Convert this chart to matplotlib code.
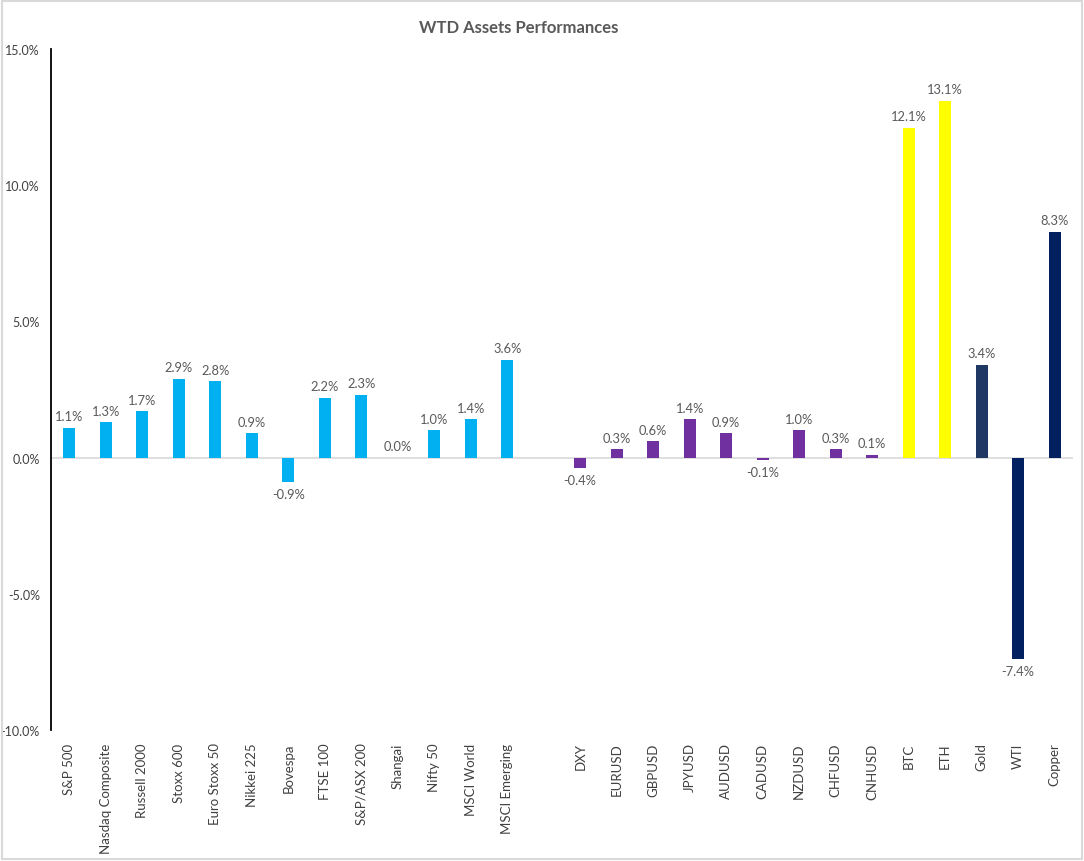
import numpy as np
import matplotlib.pyplot as plt
from matplotlib.patches import Rectangle
from matplotlib.ticker import FuncFormatter

# Datos de la semana (en %)
equities = ['S&P 500', 'Nasdaq Composite', 'Russell 2000', 'Stoxx 600', 'Euro Stoxx 50',
            'Nikkei 225', 'Bovespa', 'FTSE 100', 'S&P/ASX 200', 'Shangai', 'Nifty 50',
            'MSCI World', 'MSCI Emerging']
equities_val = [1.1, 1.3, 1.7, 2.9, 2.8, 0.9, -0.9, 2.2, 2.3, 0.0, 1.0, 1.4, 3.6]

fx = ['DXY', 'EURUSD', 'GBPUSD', 'JPYUSD', 'AUDUSD', 'CADUSD', 'NZDUSD', 'CHFUSD', 'CNHUSD']
fx_val = [-0.4, 0.3, 0.6, 1.4, 0.9, -0.1, 1.0, 0.3, 0.1]

crypto = ['BTC', 'ETH']
crypto_val = [12.1, 13.1]

commod = ['Gold', 'WTI', 'Copper']
commod_val = [3.4, -7.4, 8.3]

c_eq = '#00B0F0'
c_fx = '#7030A0'
c_cr = '#FFFF00'
c_cm = ['#1F3864', '#002060', '#002060']

labels = equities + [''] + fx + crypto + commod
values = equities_val + [np.nan] + fx_val + crypto_val + commod_val
colors = [c_eq] * len(equities) + ['none'] + [c_fx] * len(fx) + [c_cr] * len(crypto) + c_cm

plt.rcParams['font.family'] = ['Lato', 'DejaVu Sans']

fig = plt.figure(figsize=(10.84, 8.62), dpi=100)
ax = fig.add_axes([51/1084, 1 - 731/862, 1022/1084, 681/862])

x = np.arange(len(labels))
ax.bar(x, np.nan_to_num(values), width=0.33, color=colors, zorder=3)
ax.axhline(0, color='#D9D9D9', linewidth=1.2, zorder=2)

for xi, v in zip(x, values):
    if np.isnan(v):
        continue
    if v >= 0:
        ax.annotate(f'{v:.1f}%', (xi, v), xytext=(0, 4), textcoords='offset points',
                    ha='center', va='bottom', fontsize=9.3, color='#595959')
    else:
        ax.annotate(f'{v:.1f}%', (xi, v), xytext=(0, -4), textcoords='offset points',
                    ha='center', va='top', fontsize=9.3, color='#595959')

ax.set_xlim(-0.5, len(labels) - 0.5)
ax.set_ylim(-10, 15)
ax.set_yticks([-10, -5, 0, 5, 10, 15])
ax.yaxis.set_major_formatter(FuncFormatter(lambda y, _: f'{y:.1f}%'))
ax.set_xticks(x)
ax.set_xticklabels(labels, rotation=90, fontsize=9.5, color='#404040')
ax.tick_params(axis='x', length=0, pad=9)
ax.tick_params(axis='y', length=0, pad=8, labelsize=9, labelcolor='#404040')

for s in ['top', 'right', 'bottom']:
    ax.spines[s].set_visible(False)
ax.spines['left'].set_color('black')
ax.spines['left'].set_linewidth(1.3)

fig.text(519/1084, 1 - 28/862, 'WTD Assets Performances', ha='center', va='center',
         fontsize=12, fontweight='bold', color='#595959')

fig.patches.append(Rectangle((0.002, 0.002), 0.996, 0.996, transform=fig.transFigure,
                             fill=False, edgecolor='#D9D9D9', linewidth=1.5))

plt.savefig('out.png', dpi=100)
